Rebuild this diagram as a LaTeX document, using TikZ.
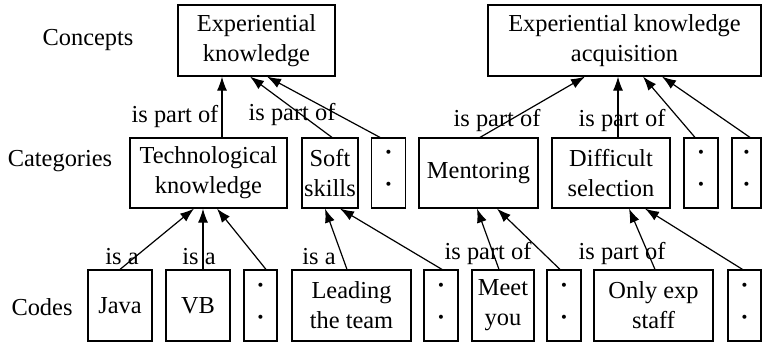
\documentclass[tikz,border=0pt]{standalone}
\usepackage{fontspec}
\setmainfont{Liberation Serif}
\usetikzlibrary{positioning,arrows.meta}
\newcommand{\twodots}{\textperiodcentered\\\textperiodcentered}

\begin{document}
\begin{tikzpicture}[x=0.5pt,y=-0.5pt,
    font=\fontsize{12.2}{15}\selectfont,
    f/.style={-{Latex[length=7pt,width=5pt]},line width=0.6pt},%
    b/.style={draw,line width=0.6pt,align=center,inner sep=0pt,minimum height=35.5pt},%
    d/.style={b,minimum width=17pt,font=\fontsize{17}{16}\selectfont},%
    p/.style={inner sep=0pt}]
    \useasboundingbox (0,0) rectangle (762,344);
    % concepts
    \node[p] (conc) at (88,40) {Concepts};
    \node[b,minimum width=78.5pt] (EK) at (256.5,40.5) {Experiential\\knowledge};
    \node[b,minimum width=136.5pt] (EKA) at (624.5,40.5) {Experiential knowledge\\acquisition};
    % categories
    \node[p] (cat) at (60,161) {Categories};
    \node[b,minimum width=78.5pt,minimum height=35pt] (Tech) at (208.5,173) {Technological\\knowledge};
    \node[b,minimum width=28pt,minimum height=35pt] (Soft) at (330,173) {Soft\\skills};
    \node[d,minimum height=35pt] (D1) at (388.5,173) {\twodots};
    \node[b,minimum width=59.5pt,minimum height=35pt] (Ment) at (478.5,173) {Mentoring};
    \node[b,minimum width=59pt,minimum height=35pt] (Diff) at (611,173) {Difficult\\selection};
    \node[d,minimum height=35pt] (D2) at (701,173) {\twodots};
    \node[d,minimum width=14.5pt,minimum height=35pt] (D3) at (746.5,173) {\twodots};
    % codes
    \node[p] (cod) at (42,307) {Codes};
    \node[b,minimum width=32pt] (Java) at (120,305.5) {Java};
    \node[b,minimum width=32pt] (VB) at (198,305.5) {VB};
    \node[d,minimum width=16.5pt] (C1) at (260.5,305.5) {\twodots};
    \node[b,minimum width=59.5pt] (Lead) at (351.5,305.5) {Leading\\the team};
    \node[d] (C2) at (441,305.5) {\twodots};
    \node[b,minimum width=31pt] (Meet) at (503,305.5) {Meet\\you};
    \node[d] (C3) at (564,305.5) {\twodots};
    \node[b,minimum width=59.5pt] (Only) at (653.5,305.5) {Only exp\\staff};
    \node[d,minimum width=16.5pt] (C4) at (744.5,305.5) {\twodots};

    \draw[f] ([xshift=6.75pt]Tech.north) -- ([xshift=-17.25pt]EK.south);
    \draw[f] ([xshift=1pt]Soft.north) -- ([xshift=-3.25pt]EK.south);
    \draw[f] ([xshift=-4.25pt]D1.north) -- ([xshift=5.25pt]EK.south);
    \draw[f] ([xshift=0.75pt]Ment.north) -- ([xshift=-19.75pt]EKA.south);
    \draw[f] ([xshift=3.5pt]Diff.north) -- ([xshift=-3.25pt]EKA.south);
    \draw[f] ([xshift=-3pt]D2.north) -- ([xshift=9.25pt]EKA.south);
    \draw[f] ([xshift=1.75pt]D3.north) -- ([xshift=18.75pt]EKA.south);
    \node[p] (l1) at (175,117) {is part of};
    \node[p] (l2) at (292,115) {is part of};
    \node[p] (l3) at (497,121) {is part of};
    \node[p] (l4) at (622,121) {is part of};

    \draw[f] (Java.north) -- ([xshift=-7.25pt]Tech.south);
    \draw[f] ([xshift=2.5pt]VB.north) -- ([xshift=-2.75pt]Tech.south);
    \draw[f] ([xshift=2.75pt]C1.north) -- ([xshift=4.25pt]Tech.south);
    \draw[f] ([xshift=-2.25pt]Lead.north) -- ([xshift=-2.5pt]Soft.south);
    \draw[f] ([xshift=0.5pt]C2.north) -- ([xshift=5pt]Soft.south);
    \draw[f] ([xshift=-2pt]Meet.north) -- ([xshift=-0.75pt]Ment.south);
    \draw[f] ([xshift=-2pt]C3.north) -- ([xshift=9.25pt]Ment.south);
    \draw[f] ([xshift=0.75pt]Only.north) -- ([xshift=9pt]Diff.south);
    \draw[f] ([xshift=-1pt]C4.north) -- ([xshift=17pt]Diff.south);
    \node[p] (l5) at (122,257) {is a};
    \node[p] (l6) at (199,257) {is a};
    \node[p] (l7) at (319,257) {is a};
    \node[p] (l8) at (488,254) {is part of};
    \node[p] (l9) at (622,254) {is part of};
\end{tikzpicture}
\end{document}
